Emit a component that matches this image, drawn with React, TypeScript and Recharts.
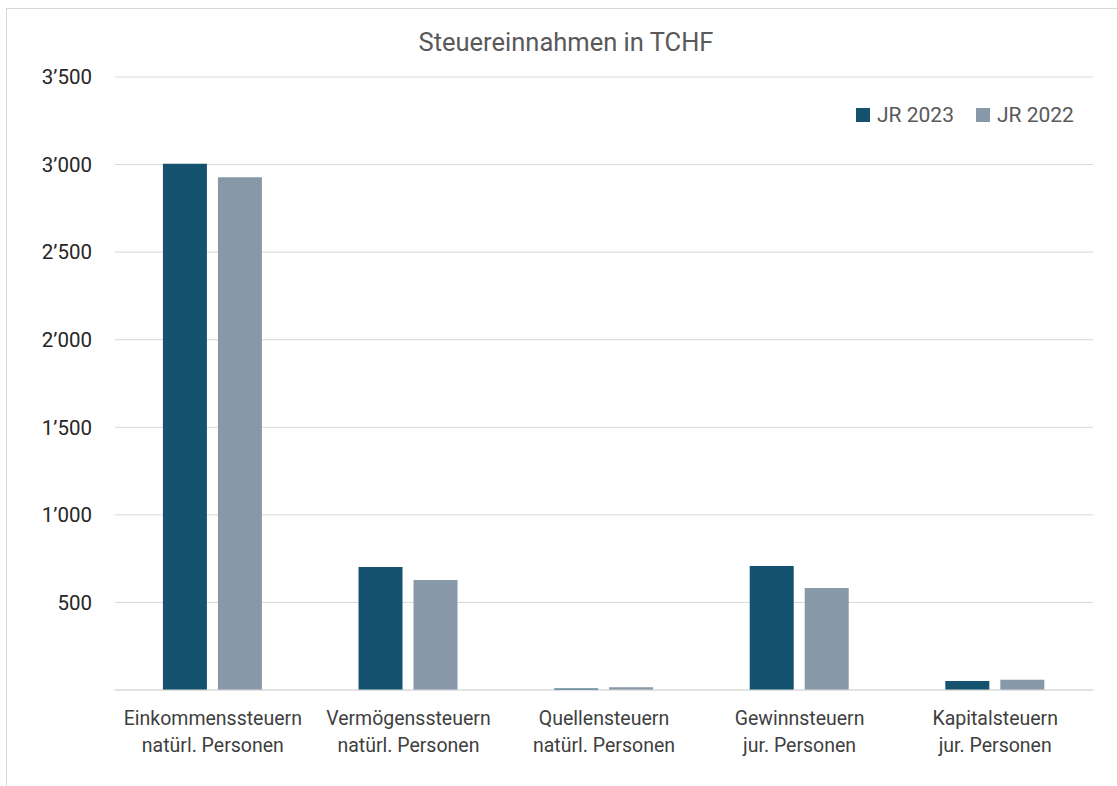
import React from 'react';
import { BarChart, Bar, XAxis, YAxis, CartesianGrid } from 'recharts';

const categories = [
  ['Einkommenssteuern', 'natürl. Personen'],
  ['Vermögenssteuern', 'natürl. Personen'],
  ['Quellensteuern', 'natürl. Personen'],
  ['Gewinnsteuern', 'jur. Personen'],
  ['Kapitalsteuern', 'jur. Personen'],
];
const jr2023 = [3005, 702, 8, 708, 51];
const jr2022 = [2928, 628, 15, 582, 59];
const yTicks = [0, 500, 1000, 1500, 2000, 2500, 3000, 3500];
const seriesNames = ['JR 2023', 'JR 2022'];

const data = categories.map((c, i) => ({
  name: c.join('\n'),
  jr2023: jr2023[i],
  jr2022: jr2022[i],
}));

const FONT = 'Roboto, "Open Sans", sans-serif';
const C2023 = '#14526f';
const C2022 = '#8799a9';

const fmt = (v: number) => {
  if (v === 0) return '';
  const s = String(v);
  return s.length > 3 ? s.slice(0, -3) + '\u2019' + s.slice(-3) : s;
};

const CategoryTick = (props: any) => {
  const { x, y, payload } = props;
  const lines = String(payload.value).split('\n');
  return (
    <g transform={`translate(${x},${y})`}>
      {lines.map((l, i) => (
        <text
          key={i}
          x={0}
          y={27 + i * 27}
          textAnchor="middle"
          fontSize={19.5}
          fontFamily={FONT}
          fill="#404040"
        >
          {l}
        </text>
      ))}
    </g>
  );
};

export default function App() {
  return (
    <div style={{ position: 'absolute', left: 0, top: 0, width: 1117, height: 786, background: '#fff', overflow: 'hidden' }}>
      <div style={{ position: 'absolute', left: 6, top: 8, width: 1130, height: 800, border: '1px solid #d9d9d9' }} />
      <div
        style={{
          position: 'absolute',
          top: 27,
          left: 0,
          width: 1132,
          textAlign: 'center',
          fontFamily: FONT,
          fontSize: 25.5,
          color: '#595959',
        }}
      >
        Steuereinnahmen in TCHF
      </div>
      <div
        style={{
          position: 'absolute',
          top: 103,
          left: 856,
          display: 'flex',
          gap: 22,
          fontFamily: FONT,
          fontSize: 21,
          color: '#595959',
        }}
      >
        {seriesNames.map((label, i) => (
          <div key={label} style={{ display: 'flex', alignItems: 'center' }}>
            <span
              style={{
                width: 14,
                height: 14,
                background: i === 0 ? C2023 : C2022,
                marginRight: 7,
                display: 'inline-block',
              }}
            />
            {label}
          </div>
        ))}
      </div>
      <BarChart
        width={1117}
        height={786}
        data={data}
        margin={{ top: 77, right: 24, bottom: 66, left: 55 }}
        barCategoryGap="24.5%"
        barGap={11}
        style={{ position: 'absolute', left: 0, top: 0 }}
      >
        <CartesianGrid vertical={false} stroke="#d9d9d9" />
        <XAxis
          dataKey="name"
          height={30}
          tick={<CategoryTick />}
          tickLine={false}
          axisLine={{ stroke: '#d9d9d9' }}
          interval={0}
        />
        <YAxis
          width={60}
          domain={[0, 3500]}
          ticks={yTicks}
          tickFormatter={fmt}
          axisLine={false}
          tickLine={false}
          tick={{ fontSize: 20.5, fontFamily: FONT, fill: '#262626' }}
          tickMargin={17}
        />
        <Bar dataKey="jr2023" name="JR 2023" fill={C2023} isAnimationActive={false} />
        <Bar dataKey="jr2022" name="JR 2022" fill={C2022} isAnimationActive={false} />
      </BarChart>
    </div>
  );
}
